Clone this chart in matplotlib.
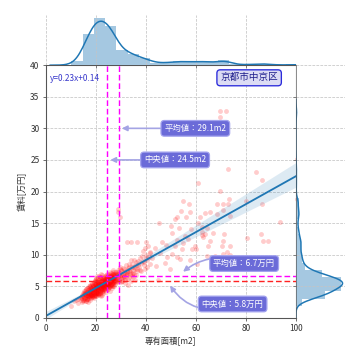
import matplotlib
matplotlib.use("Agg")
import matplotlib.pyplot as plt
import numpy as np
import seaborn as sns

# ---- data: floor area [m2] and rent [10k yen] ----
area_core = [
    10.2, 11.5, 12.3, 13.0, 13.6, 12.8,
    14.2, 14.5, 14.8, 15.0, 15.1, 15.3, 15.5, 15.6, 15.8, 16.0,
    16.0, 16.2, 16.3, 16.5, 16.6, 16.8, 16.9, 17.0, 17.1, 17.2,
    17.3, 17.4, 17.5, 17.6, 17.7, 17.8, 17.8, 17.9, 18.0, 18.0,
    18.1, 18.2, 18.2, 18.3, 18.4, 18.4, 18.5, 18.5, 18.6, 15.4,
    16.4, 17.0, 17.6, 18.1, 14.9,
    18.7, 18.8, 18.9, 19.0, 19.1, 19.2, 19.3, 19.4, 19.5, 19.6,
    19.7, 19.8, 19.9, 20.0, 20.0, 20.1, 20.2, 20.3, 20.4, 20.5,
    20.6, 20.7, 20.8, 20.9, 21.0, 21.0, 21.1, 21.2, 21.3, 21.4,
    21.5, 21.6, 21.7, 21.8, 21.9, 22.0, 22.0, 22.1, 22.2, 22.3,
    22.4, 22.5, 22.6, 22.7, 22.8, 22.9, 23.0, 23.0, 23.1, 23.2,
    18.9, 19.3, 19.7, 20.2, 20.6, 21.1, 21.5, 21.9, 22.4, 22.8,
    19.0, 19.5, 20.0, 20.5, 21.0, 21.5, 22.0, 22.5, 23.0, 19.8,
    19.4, 19.9, 20.4, 20.9, 21.4, 21.8, 22.3, 22.7, 23.1, 20.7,
    23.3, 23.4, 23.5, 23.6, 23.7, 23.8, 23.9, 24.0, 24.1, 24.2,
    24.3, 24.4, 24.5, 24.5, 24.6, 24.7, 24.8, 24.9, 25.0, 25.0,
    25.1, 25.2, 25.3, 25.4, 25.5, 25.6, 25.7, 25.8, 25.9, 26.0,
    26.1, 26.2, 26.3, 26.4, 26.5, 26.6, 26.7, 26.8, 26.9, 27.0,
    27.1, 27.2, 27.3, 27.4, 27.5, 27.6, 27.7, 27.8, 23.6, 24.2,
    24.7, 25.2, 25.7, 26.2, 26.7, 27.2, 23.9, 24.4, 25.0, 25.5,
    26.0, 26.5, 27.0, 27.5, 23.4, 24.0, 24.8, 25.4, 26.3, 26.9,
    28.0, 28.2, 28.4, 28.6, 28.8, 29.0, 29.2, 29.4, 29.6, 29.8,
    30.0, 30.3, 30.6, 30.9, 31.2, 31.5, 31.8, 32.1, 28.5, 29.3,
    30.1, 30.8, 31.6, 32.3,
    32.6, 32.9, 33.2, 33.5, 33.8, 34.1, 34.4, 34.7, 35.0, 35.3,
    35.6, 35.9, 36.2, 36.5, 36.8, 33.0, 34.5, 35.8,
    37.3, 37.8, 38.2, 38.7, 39.1, 39.6, 40.0, 40.5, 41.0, 41.5, 38.7,
]
rent_core = [
    1.9, 2.6, 2.9, 2.4, 3.2, 3.0,
    2.8, 3.1, 2.6, 3.4, 3.9, 2.9, 3.6, 4.2, 3.2, 3.5,
    4.6, 2.7, 3.9, 3.3, 4.1, 3.0, 4.4, 3.7, 5.0, 3.2,
    4.0, 3.5, 4.6, 2.9, 3.8, 4.3, 5.2, 3.4, 3.9, 4.8,
    3.1, 4.2, 3.6, 4.5, 3.3, 5.5, 4.0, 3.7, 4.4, 3.8,
    3.0, 2.5, 4.9, 3.6, 4.0,
    4.1, 3.5, 5.2, 4.6, 3.2, 4.9, 5.6, 3.9, 4.4, 6.0,
    3.7, 4.8, 5.3, 4.2, 6.3, 3.4, 5.0, 4.5, 5.8, 3.9,
    4.7, 5.5, 3.6, 6.1, 4.3, 5.1, 4.9, 3.8, 5.7, 4.4,
    6.5, 5.2, 4.0, 4.8, 5.9, 3.5, 5.4, 4.6, 6.2, 5.0,
    4.2, 5.6, 6.8, 4.9, 5.3, 3.9, 6.0, 4.5, 5.2, 5.8,
    3.3, 4.3, 5.1, 3.8, 6.6, 5.4, 3.7, 5.1, 4.6, 6.3,
    5.0, 3.6, 4.7, 5.6, 4.0, 5.9, 6.9, 4.4, 5.0, 4.0,
    4.6, 5.7, 4.0, 4.5, 5.3, 4.2, 5.5, 5.9, 4.8, 5.1,
    5.2, 4.4, 6.1, 5.5, 4.8, 6.6, 5.0, 5.8, 4.1, 6.3,
    5.4, 4.7, 6.0, 5.6, 7.0, 5.1, 4.5, 6.4, 5.9, 5.3,
    6.7, 4.9, 5.7, 6.2, 5.0, 7.3, 5.5, 4.3, 6.0, 5.8,
    6.5, 5.2, 4.8, 6.9, 5.9, 5.4, 7.6, 6.1, 5.6, 6.3,
    5.0, 6.8, 5.7, 6.2, 7.2, 5.3, 6.0, 6.6, 5.7, 4.9,
    6.2, 5.5, 6.5, 5.9, 5.1, 6.0, 5.4, 5.9, 4.6, 6.1,
    6.8, 5.5, 5.8, 6.4, 5.9, 6.8, 5.7, 5.3, 6.1, 7.0,
    6.1, 7.2, 5.6, 6.8, 7.6, 6.4, 5.9, 7.0, 6.6, 8.1,
    6.3, 7.4, 5.8, 6.9, 7.7, 6.2, 7.1, 8.4, 6.9, 6.0,
    7.5, 6.5, 5.5, 7.0,
    7.3, 6.2, 8.0, 6.9, 7.6, 5.8, 8.6, 7.1, 6.5, 9.2,
    7.8, 6.8, 8.3, 7.4, 9.0, 5.2, 7.0, 6.0,
    8.1, 9.5, 7.4, 10.6, 8.8, 7.8, 10.0, 9.1, 11.3, 8.5, 9.0,
]
area_core2 = [
    14.1, 14.4, 14.7, 15.0, 15.2, 15.4, 15.7, 15.9, 16.1, 16.3,
    16.5, 16.7, 16.9, 17.1, 17.3, 17.5, 17.7, 17.9, 18.1, 18.3,
    18.5, 14.6, 15.2, 15.8, 16.4, 17.0, 17.6, 18.2, 15.5, 16.1,
    16.7, 17.3, 17.9, 18.4, 16.2, 17.4, 18.0,
    18.7, 18.9, 19.1, 19.3, 19.5, 19.7, 19.9, 20.1, 20.3, 20.5,
    20.7, 20.9, 21.1, 21.3, 21.5, 21.7, 21.9, 22.1, 22.3, 22.5,
    22.7, 22.9, 23.1, 18.8, 19.2, 19.6, 20.0, 20.4, 20.8, 21.2,
    21.6, 22.0, 22.4, 22.8, 23.2, 18.7, 19.1, 19.5, 19.9, 20.3,
    20.7, 21.1, 21.5, 21.9, 22.3, 22.7, 23.1, 19.0, 19.8, 20.6,
    21.4, 22.2, 23.0, 19.4, 20.2, 21.0, 21.8, 22.6, 19.6, 20.4,
    21.2, 22.0, 22.8, 20.0, 21.6,
    23.3, 23.5, 23.7, 23.9, 24.1, 24.3, 24.5, 24.7, 24.9, 25.1,
    25.3, 25.5, 25.7, 25.9, 26.1, 26.3, 26.5, 26.7, 26.9, 27.1,
    27.3, 27.5, 27.7, 23.4, 23.8, 24.2, 24.6, 25.0, 25.4, 25.8,
    26.2, 26.6, 27.0, 27.4, 23.6, 24.0, 24.4, 24.8, 25.2, 25.6,
    26.0, 26.4, 26.8, 27.2, 27.6, 23.5, 24.3, 25.1, 25.9, 26.7,
    27.5, 24.6, 25.5, 26.3, 24.0, 25.0,
    27.9, 28.3, 28.7, 29.1, 29.5, 29.9, 30.2, 30.5, 30.8, 31.1,
    31.4, 31.7, 32.0, 32.3, 28.1, 28.9, 29.7, 30.4, 31.3,
    32.5, 32.8, 33.1, 33.4, 33.7, 34.0, 34.3, 34.6, 34.9, 35.4,
    35.9, 36.4, 36.9, 33.3, 35.2,
    37.5, 38.0, 38.5, 39.3, 39.9, 40.3, 41.2, 41.8,
]
rent_core2 = [
    3.3, 2.5, 3.7, 2.9, 4.3, 3.1, 3.8, 2.7, 4.5, 3.6,
    3.0, 4.7, 3.5, 4.1, 3.3, 5.1, 3.6, 4.4, 3.9, 5.3,
    3.4, 3.5, 3.3, 4.0, 4.8, 3.4, 4.2, 4.6, 3.0, 4.1,
    3.8, 4.5, 3.7, 4.1, 3.6, 3.9, 5.0,
    4.4, 3.8, 5.5, 4.0, 5.1, 4.6, 3.5, 5.9, 4.9, 4.2,
    5.3, 3.9, 6.0, 4.7, 5.0, 4.3, 6.4, 5.5, 4.1, 5.2,
    4.8, 6.1, 5.4, 3.6, 4.5, 5.8, 3.9, 5.2, 4.4, 5.7,
    4.0, 5.0, 5.9, 4.3, 6.5, 5.1, 4.8, 4.1, 6.2, 4.6,
    3.8, 5.3, 4.9, 5.6, 3.7, 5.5, 4.6, 4.3, 5.4, 5.0,
    6.7, 4.8, 5.2, 3.4, 4.0, 4.6, 5.2, 6.0, 5.3, 4.7,
    5.6, 4.4, 5.1, 4.9, 6.3,
    5.5, 6.2, 4.6, 5.9, 6.5, 5.0, 5.7, 6.8, 5.3, 6.1,
    4.9, 6.4, 5.6, 7.1, 5.2, 6.0, 6.6, 5.4, 7.3, 5.9,
    6.3, 5.6, 7.0, 6.0, 5.1, 5.6, 6.3, 5.0, 6.9, 5.4,
    6.7, 6.2, 5.5, 6.9, 4.9, 5.3, 6.4, 5.2, 6.0, 5.7,
    5.0, 6.5, 5.8, 6.4, 6.1, 5.8, 6.1, 5.6, 6.3, 6.8,
    5.9, 5.5, 6.6, 5.1, 6.2, 5.8,
    6.5, 5.8, 7.3, 6.2, 7.7, 6.8, 5.7, 6.6, 7.9, 6.4,
    7.2, 6.0, 6.9, 7.6, 7.0, 6.6, 7.1, 5.9, 6.7,
    6.8, 7.9, 6.5, 8.6, 7.2, 9.1, 6.7, 8.0, 7.5, 6.9,
    8.8, 7.7, 8.4, 7.4, 8.1,
    7.6, 8.7, 9.8, 8.3, 9.4, 8.0, 9.7, 10.2,
]
area_outer = [
    29.0, 29.0, 29.6, 32.6, 34.2, 36.6, 45.3, 69.7, 72.1, 69.7,
    73.0, 84.1, 86.5, 60.8, 69.7, 73.4, 55.0, 57.2, 68.6, 70.8,
    72.9, 80.1, 86.5, 70.8, 54.1, 57.7, 52.6, 56.1, 51.6, 68.6,
    73.7, 93.7, 50.0, 53.4, 50.4, 62.4, 64.4, 62.4, 62.4, 71.3,
    80.4, 86.0, 87.0, 89.0, 70.4, 73.7, 59.7, 60.1, 58.4, 52.4,
    54.8, 51.7, 54.4, 45.7, 48.4, 50.4, 52.4, 53.7, 64.4, 67.7,
    71.0, 73.7, 57.7, 60.4, 63.7, 65.8, 61.8, 61.0, 67.0, 71.0,
    65.7, 65.0, 72.4, 63.0, 63.5, 100.5, 100.5, 44.7, 42.5, 43.5,
    44.0, 46.5, 47.5, 48.0, 55.5, 57.0, 58.0, 49.5, 40.1, 41.5,
    39.5,
]
rent_outer = [
    17.2, 16.8, 16.0, 12.0, 12.0, 12.0, 15.0, 32.7, 32.7, 31.8,
    23.5, 23.1, 21.9, 21.3, 20.1, 18.8, 18.5, 18.1, 18.0, 18.0,
    18.0, 18.5, 18.0, 17.1, 16.9, 16.8, 16.0, 16.0, 15.6, 16.5,
    16.1, 15.2, 14.5, 14.2, 13.5, 14.4, 14.2, 13.6, 13.1, 13.3,
    12.6, 13.2, 12.1, 12.2, 11.3, 11.3, 11.3, 10.9, 10.9, 12.3,
    11.9, 11.3, 10.9, 10.3, 9.7, 10.1, 9.7, 9.3, 9.8, 9.8,
    10.1, 9.9, 9.2, 8.6, 16.6, 16.7, 16.0, 15.0, 13.4, 12.2,
    12.1, 11.3, 10.5, 12.8, 13.3, 25.1, 18.8, 6.0, 9.5, 11.0,
    8.2, 12.0, 8.7, 11.5, 13.0, 12.5, 14.0, 7.8, 12.0, 10.5,
    11.0,
]
area = area_core + area_core2 + area_outer
rent = rent_core + rent_core2 + rent_outer

mean_area, median_area = 29.1, 24.5
mean_rent, median_rent = 6.7, 5.8
district = "京都市中京区"
fit_label = "y=0.23x+0.14"
x_ticks = [0, 20, 40, 60, 80, 100]
y_ticks = [0, 5, 10, 15, 20, 25, 30, 35, 40]

plt.rcParams["font.family"] = ["Noto Sans CJK JP", "DejaVu Sans"]
plt.rcParams["axes.unicode_minus"] = False


def scott_factor(v):
    """Scott bandwidth using min(std, IQR/1.349), as a gaussian_kde factor."""
    v = np.asarray(v, dtype=float)
    sd = v.std(ddof=1)
    q75, q25 = np.percentile(v, [75, 25])
    a = min(sd, (q75 - q25) / 1.349)
    return 1.059 * a * len(v) ** (-0.2) / sd


fig = plt.figure(figsize=(6, 6), dpi=60, facecolor="white")
ax = fig.add_axes([0.127, 0.117, 0.695, 0.702])
axx = fig.add_axes([0.127, 0.819, 0.695, 0.139], sharex=ax)
axy = fig.add_axes([0.822, 0.117, 0.136, 0.702], sharey=ax)

ax.set_xlim(0, 100)
ax.set_ylim(0, 40)

grid_kw = dict(color="#c4c4c4", linestyle="--", linewidth=0.9)
blue = "#1f77b4"

sns.regplot(x=area, y=rent, ax=ax, truncate=False, seed=0, color=blue,
            scatter_kws=dict(color="red", alpha=0.2, s=34, linewidths=0),
            line_kws=dict(lw=2.2))

# marginal distributions
sns.histplot(x=area, ax=axx, bins=20, kde=True, color=blue, alpha=0.4,
             edgecolor="none", line_kws=dict(lw=1.8),
             kde_kws=dict(cut=3, bw_method=scott_factor(area)))
sns.histplot(y=rent, ax=axy, bins=27, kde=True, color=blue, alpha=0.4,
             edgecolor="none", line_kws=dict(lw=1.8),
             kde_kws=dict(cut=3, bw_method=scott_factor(rent)))

ax.set_xlim(0, 100)
ax.set_ylim(0, 40)
ax.set_xticks(x_ticks)
ax.set_yticks(y_ticks)
ax.grid(True, **grid_kw)
ax.set_axisbelow(True)
for s in ax.spines.values():
    s.set_color("#555555")
    s.set_linewidth(1.3)
ax.tick_params(direction="out", length=4, width=1, color="#555555",
               labelsize=10, labelcolor="#333333")
ax.set_xlabel("専有面積[m2]", fontsize=10, color="#333333")
ax.set_ylabel("賃料[万円]", fontsize=10, color="#333333")

axx.set_ylabel("")
axx.set_xlabel("")
axx.grid(True, axis="x", **grid_kw)
axx.grid(False, axis="y")
axx.tick_params(axis="x", labelbottom=False, length=4, color="#555555")
axx.tick_params(axis="y", left=False, labelleft=False)
for k in ["top", "right", "left"]:
    axx.spines[k].set_visible(False)
axx.spines["bottom"].set_color("#555555")

axy.set_xlabel("")
axy.set_ylabel("")
axy.grid(True, axis="y", **grid_kw)
axy.grid(False, axis="x")
axy.tick_params(axis="y", labelleft=False, length=4, color="#555555")
axy.tick_params(axis="x", bottom=False, labelbottom=False)
for k in ["top", "right", "bottom"]:
    axy.spines[k].set_visible(False)
axy.spines["left"].set_color("#555555")

# reference lines
for v in (median_area, mean_area):
    ax.axvline(v, color="#ff00ff", ls=(0, (4, 2)), lw=1.7, zorder=4)
ax.axhline(mean_rent, color="#ff00ff", ls=(0, (4, 2)), lw=1.7, zorder=4)
ax.axhline(median_rent, color="#ff2222", ls=(0, (4, 2)), lw=1.7, zorder=4)

box = dict(boxstyle="round,pad=0.4", fc="#6b6bd8", ec="#a3a3ee", lw=1.5)
arrow = dict(arrowstyle="-|>", color="#a4a4e4", lw=2, mutation_scale=13,
             shrinkA=0, shrinkB=0)
ax.annotate(f"平均値：{mean_area}m2", xy=(30.4, 30.0), xytext=(59.8, 30.0),
            ha="center", va="center", color="white", fontsize=10,
            bbox=box, arrowprops=arrow, zorder=6)
ax.annotate(f"中央値：{median_area}m2", xy=(25.8, 25.0), xytext=(51.7, 25.0),
            ha="center", va="center", color="white", fontsize=10,
            bbox=box, arrowprops=arrow, zorder=6)
ax.annotate(f"平均値：{mean_rent}万円", xy=(54.9, 7.3), xytext=(79.3, 8.6),
            ha="center", va="center", color="white", fontsize=10,
            bbox=box, zorder=6,
            arrowprops=dict(arrow, connectionstyle="arc3,rad=0.3"))
ax.annotate(f"中央値：{median_rent}万円", xy=(49.7, 5.1), xytext=(74.7, 2.2),
            ha="center", va="center", color="white", fontsize=10,
            bbox=box, zorder=6,
            arrowprops=dict(arrow, connectionstyle="arc3,rad=-0.4"))

ax.text(81.3, 38.0, district, ha="center", va="center", fontsize=11.5,
        color="#1e1e8c", zorder=6,
        bbox=dict(boxstyle="round,pad=0.35", fc="#dcdcf4", ec="#2b2bdb", lw=1.6))
ax.text(1.7, 37.9, fit_label, ha="left", va="center", fontsize=10,
        color="#3a3acc", zorder=6)

fig.savefig("out.png", dpi=60, facecolor="white")
